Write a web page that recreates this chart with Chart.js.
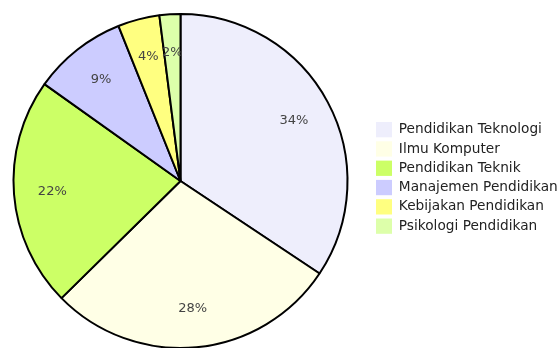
<!DOCTYPE html>
<html>
<head>
<meta charset="utf-8">
<script src="https://cdn.jsdelivr.net/npm/chart.js@4.4.1/dist/chart.umd.min.js"></script>
<style>
  html, body { margin: 0; padding: 0; background: #fff; overflow: hidden; width: 557px; height: 348px; }
  #wrap { width: 573px; height: 348px; position: relative; left: -11px; }
</style>
</head>
<body>
<div id="wrap"><canvas id="myChart"></canvas></div>
<script>
var ctx = document.getElementById('myChart').getContext('2d');

// data
let kategori = ['Pendidikan Teknologi', 'Ilmu Komputer', 'Pendidikan Teknik', 'Manajemen Pendidikan', 'Kebijakan Pendidikan', 'Psikologi Pendidikan'];
let persen = [34, 28, 22, 9, 4, 2];
let warna = ['#eeeefc', '#ffffe6', '#ccff66', '#ccccff', '#ffff80', '#ddffaa'];

// tulis persen di dalam irisan
const labelPersen = {
    id: 'labelPersen',
    afterDatasetsDraw(chart) {
        const c = chart.ctx;
        const meta = chart.getDatasetMeta(0);
        c.save();
        c.font = '13px "DejaVu Sans"';
        c.fillStyle = '#444';
        c.textAlign = 'center';
        c.textBaseline = 'middle';
        meta.data.forEach((arc, i) => {
            const p = arc.getProps(['x', 'y', 'startAngle', 'endAngle', 'outerRadius'], true);
            const sudut = (p.startAngle + p.endAngle) / 2;
            const r = p.outerRadius * 0.77;
            c.fillText(persen[i] + '%', p.x + Math.cos(sudut) * r, p.y + Math.sin(sudut) * r);
        });
        c.restore();
    }
};

new Chart(ctx, {
    type: 'pie',
    data: {
        labels: kategori,
        datasets: [{
            data: persen,
            backgroundColor: warna,
            borderColor: '#000',
            borderWidth: 2
        }]
    },
    options: {
        responsive: true,
        maintainAspectRatio: false,
        animation: false,
        radius: 167,
        layout: {
            padding: { left: 0, right: 0, top: 14, bottom: 0 }
        },
        plugins: {
            tooltip: { enabled: false },
            legend: {
                position: 'right',
                maxWidth: 190,
                // judul kosong, cuma buat geser legenda sedikit ke atas
                title: { display: true, text: '', font: { size: 1 }, padding: { top: -7.4, bottom: 0 } },
                labels: {
                    color: '#222',
                    boxWidth: 16,
                    boxHeight: 15.3,
                    padding: 4,
                    font: { family: '"DejaVu Sans"', size: 13.7 },
                    generateLabels: function(chart) {
                        let items = Chart.overrides.pie.plugins.legend.labels.generateLabels(chart);
                        items.forEach(it => { it.lineWidth = 0; it.strokeStyle = 'rgba(0,0,0,0)'; });
                        return items;
                    }
                }
            }
        }
    },
    plugins: [labelPersen]
});
</script>
</body>
</html>
